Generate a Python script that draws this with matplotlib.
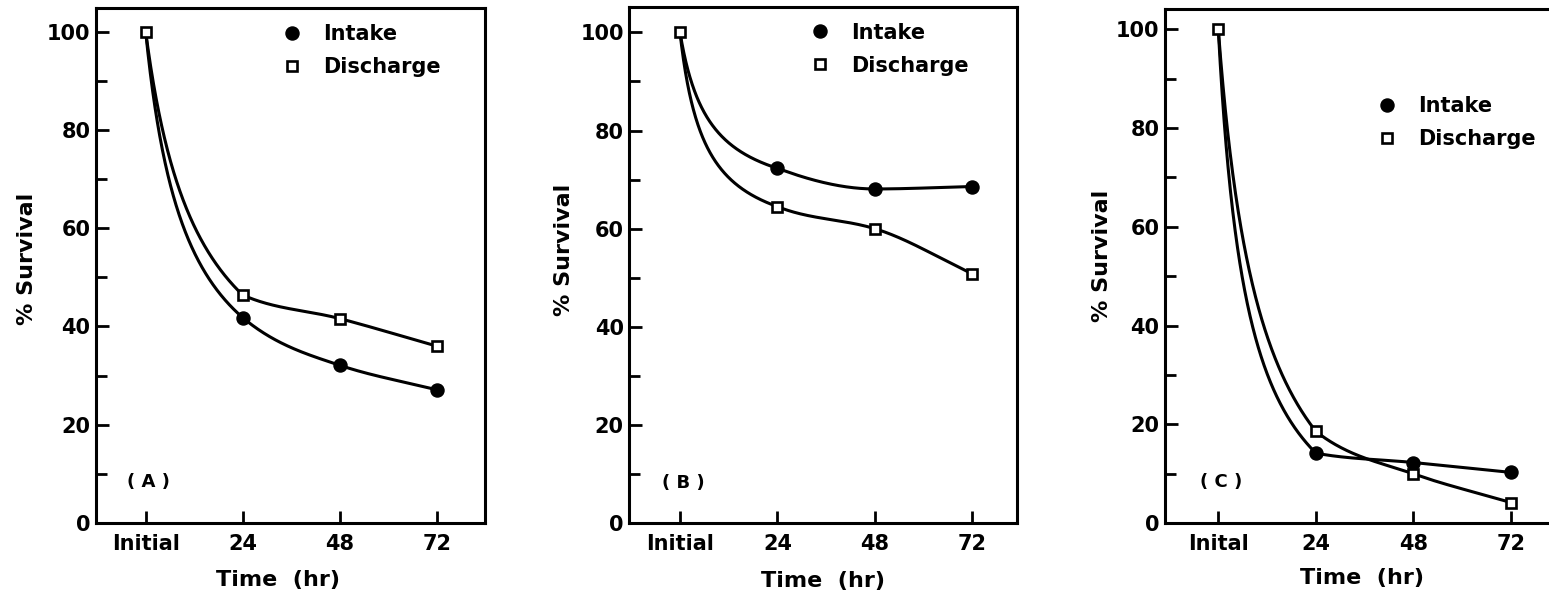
import numpy as np
import matplotlib
matplotlib.use("Agg")
import matplotlib.pyplot as plt
from matplotlib.lines import Line2D

# ---------------- data ----------------
time_labels_ab = ["Initial", "24", "48", "72"]
time_labels_c = ["Inital", "24", "48", "72"]
time_pos = [0, 1, 2, 3]

intake_a = [100, 41.8, 32.1, 27.1]
discharge_a = [100, 46.4, 41.6, 36.0]
intake_b = [100, 72.3, 68.1, 68.6]
discharge_b = [100, 64.5, 60.0, 50.8]
intake_c = [100, 14.2, 12.3, 10.3]
discharge_c = [100, 18.6, 10.0, 4.2]

panel_letters = ["( A )", "( B )", "( C )"]

# curvature of the hand-drawn first segment (smoothing only)
bend = {"a": (0.42, 0.55), "b": (0.30, 0.25), "c": (0.30, 0.45)}

# --------------- helpers ---------------
def pchip_slopes(xk, yk):
    xk = np.asarray(xk, float); yk = np.asarray(yk, float)
    h = np.diff(xk); d = np.diff(yk) / h
    n = len(xk)
    m = np.zeros(n)
    for k in range(1, n - 1):
        if d[k - 1] * d[k] > 0:
            w1 = 2 * h[k] + h[k - 1]; w2 = h[k] + 2 * h[k - 1]
            m[k] = (w1 + w2) / (w1 / d[k - 1] + w2 / d[k])
    m[-1] = d[-1]
    return m

def smooth(x, y, c):
    x = np.asarray(x, float); y = np.asarray(y, float)
    m = pchip_slopes(x, y)
    # first segment: hyperbolic decay between the first two points
    xs0 = np.linspace(x[0], x[1], 250)
    b = (y[0] - y[1]) * c * (1 + c) / (x[1] - x[0])
    a = y[0] - b / c
    ys0 = a + b / (xs0 - x[0] + c)
    X = [xs0]; Y = [ys0]
    for k in range(1, len(x) - 1):
        h = x[k + 1] - x[k]
        t = np.linspace(0, 1, 120)
        h00 = 2 * t**3 - 3 * t**2 + 1; h10 = t**3 - 2 * t**2 + t
        h01 = -2 * t**3 + 3 * t**2; h11 = t**3 - t**2
        X.append(x[k] + t * h)
        Y.append(h00 * y[k] + h10 * h * m[k] + h01 * y[k + 1] + h11 * h * m[k + 1])
    return np.concatenate(X), np.concatenate(Y)

# --------------- figure ----------------
plt.rcParams['font.family'] = ['DejaVu Sans']
plt.rcParams['font.weight'] = 'bold'
W, H = 1549, 594
fig = plt.figure(figsize=(W / 100, H / 100), dpi=100)

def fx(px): return px / W
def fy(py): return 1 - py / H

panels = [
    dict(key="a", box=(96, 485, 8, 523), xlim=(-0.512, 3.498), ytop=104.8,
         intake=intake_a, discharge=discharge_a, labels=time_labels_ab,
         leg=(0.477, 0.968), ylab=(-0.177, 0.513), xlab=(0.468, -0.111)),
    dict(key="b", box=(629.3, 1017.3, 7.3, 523.3), xlim=(-0.52, 3.46), ytop=105.1,
         intake=intake_b, discharge=discharge_b, labels=time_labels_ab,
         leg=(0.465, 0.970), ylab=(-0.168, 0.53), xlab=(0.5, -0.111)),
    dict(key="c", box=(1165, 1559.9, 9, 523.3), xlim=(-0.546, 3.5), ytop=104.1,
         intake=intake_c, discharge=discharge_c, labels=time_labels_c,
         leg=(0.535, 0.830), ylab=(-0.16, 0.52), xlab=(0.5, -0.106)),
]

lw = 2.2
for i, p in enumerate(panels):
    x0, x1, yt, yb = p['box']
    ax = fig.add_axes([fx(x0), fy(yb), fx(x1) - fx(x0), fy(yt) - fy(yb)])
    ax.set_xlim(*p['xlim'])
    ax.set_ylim(0, p['ytop'])
    for s in ax.spines.values():
        s.set_linewidth(2.2)

    ci, cd = bend[p['key']]
    xs, ys = smooth(time_pos, p['intake'], ci)
    ax.plot(xs, ys, color='k', lw=lw, zorder=2, solid_capstyle='round')
    xs, ys = smooth(time_pos, p['discharge'], cd)
    ax.plot(xs, ys, color='k', lw=lw, zorder=2, solid_capstyle='round')
    ax.plot(time_pos[1:], p['intake'][1:], ls='none', marker='o', ms=9.4,
            color='k', zorder=3)
    ax.plot(time_pos, p['discharge'], ls='none', marker='s', ms=7.8,
            mfc='white', mec='k', mew=1.9, zorder=4)

    ax.set_xticks(time_pos)
    ax.set_xticklabels(p['labels'])
    ax.set_yticks([0, 20, 40, 60, 80, 100])
    ax.set_yticks([10, 30, 50, 70, 90], minor=True)
    ax.tick_params(axis='both', which='major', direction='in', length=9,
                   width=2.0, labelsize=15)
    ax.tick_params(axis='y', which='minor', direction='in', length=8,
                   width=2.0)
    ax.tick_params(axis='y', which='major', pad=4)
    ax.tick_params(axis='x', which='major', pad=8)

    ax.set_ylabel('% Survival', fontsize=16, fontweight='bold')
    ax.yaxis.set_label_coords(*p['ylab'])
    ax.yaxis.label.set_va('center')
    ax.set_xlabel('Time  (hr)', fontsize=16, fontweight='bold')
    ax.xaxis.set_label_coords(*p['xlab'])
    ax.xaxis.label.set_va('center')

    ax.text(0.03, 8.3, panel_letters[i], ha='center', va='center', fontsize=13,
            fontweight='bold')

    handles = [
        Line2D([], [], ls='none', marker='o', ms=9.4, color='k'),
        Line2D([], [], ls='none', marker='s', ms=7.8, mfc='white', mec='k',
               mew=1.9),
    ]
    ax.legend(handles, ['Intake', 'Discharge'], loc='upper left',
              bbox_to_anchor=p['leg'], frameon=False, borderaxespad=0,
              borderpad=0, handlelength=1.0, handletextpad=1.0,
              labelspacing=0.62, prop=dict(size=15, weight='bold'))

fig.savefig('out.png', dpi=100)
